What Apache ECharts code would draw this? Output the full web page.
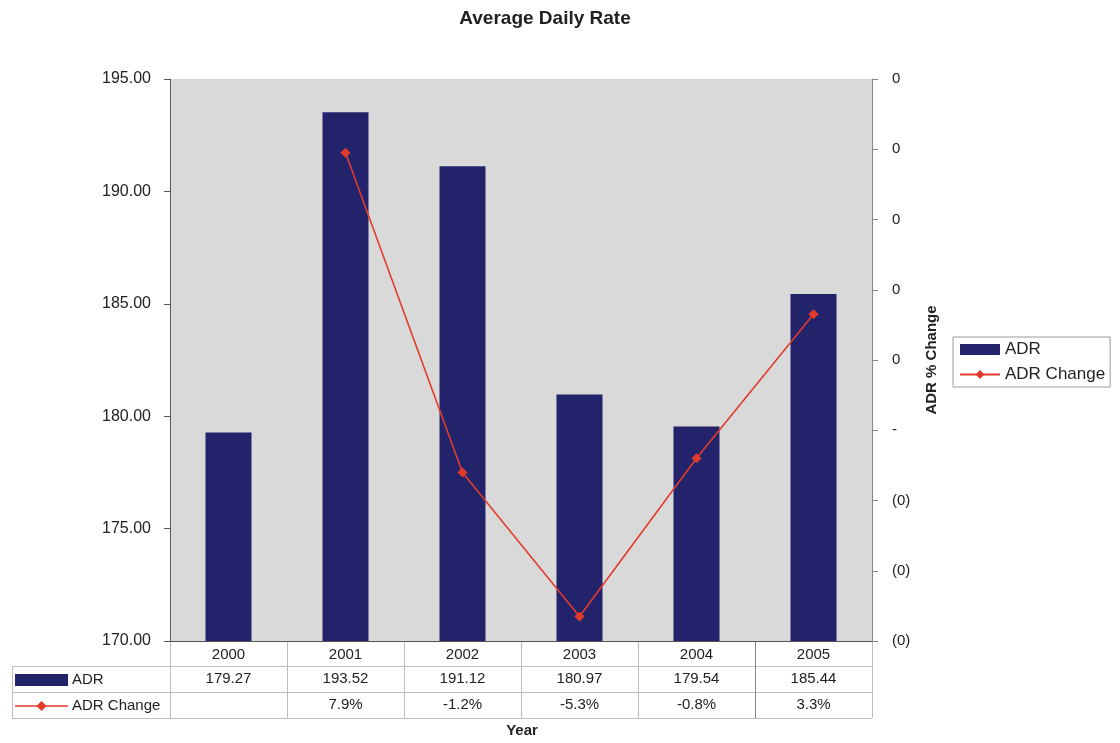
<!DOCTYPE html>
<html>
<head>
<meta charset="utf-8">
<script src="https://cdn.jsdelivr.net/npm/echarts@6/dist/echarts.min.js"></script>
<style>
html,body{margin:0;padding:0;background:#fff;}
#main{width:1120px;height:743px;}
</style>
</head>
<body>
<div id="main"></div>
<script>
const categories = ['2000', '2001', '2002', '2003', '2004', '2005'];
const adrValues = [179.27, 193.52, 191.12, 180.97, 179.54, 185.44];
const adrChange = [null, 0.079, -0.012, -0.053, -0.008, 0.033];
const adrChangeLabels = ['', '7.9%', '-1.2%', '-5.3%', '-0.8%', '3.3%'];
const leftAxis = { min: 170, max: 195, interval: 5 };
const rightAxis = { min: -0.06, max: 0.10, interval: 0.02 };

const FONT = '"Liberation Sans", Arial, sans-serif';
const NAVY = '#23236c';
const RED = '#e23b2c';
const GRID = { left: 170, right: 248, top: 79, bottom: 102 };

const chart = echarts.init(document.getElementById('main'), null, { renderer: 'canvas' });

const option = {
  backgroundColor: '#ffffff',
  animation: false,
  textStyle: { fontFamily: FONT },
  grid: {
    left: GRID.left, right: GRID.right, top: GRID.top, bottom: GRID.bottom,
    show: true, backgroundColor: '#d9d9d9', borderWidth: 0
  },
  legend: {
    orient: 'vertical',
    left: 953, top: 337,
    padding: [4, 5, 4, 6],
    itemGap: 8,
    itemWidth: 40, itemHeight: 11,
    borderColor: '#9a9a9a', borderWidth: 1,
    textStyle: { fontFamily: FONT, fontSize: 17, color: '#222' },
    data: [{ name: 'ADR', icon: 'rect' }, { name: 'ADR Change' }]
  },
  xAxis: {
    type: 'category',
    data: categories,
    axisLine: { show: true, onZero: false, lineStyle: { color: '#555', width: 1 } },
    axisTick: { show: false },
    axisLabel: { show: false },
    splitLine: { show: false }
  },
  yAxis: [
    {
      type: 'value',
      min: leftAxis.min, max: leftAxis.max, interval: leftAxis.interval,
      position: 'left',
      axisLine: { show: true, lineStyle: { color: '#555', width: 1 } },
      axisTick: { show: true, length: 6, lineStyle: { color: '#555' } },
      axisLabel: {
        formatter: v => v.toFixed(2),
        fontFamily: FONT, fontSize: 16, color: '#222', margin: 19
      },
      splitLine: { show: false }
    },
    {
      type: 'value',
      min: rightAxis.min, max: rightAxis.max, interval: rightAxis.interval,
      position: 'right',
      name: 'ADR % Change',
      nameLocation: 'middle',
      nameRotate: 90,
      nameGap: 52,
      nameTextStyle: { fontFamily: FONT, fontSize: 15, fontWeight: 'bold', color: '#222' },
      axisLine: { show: true, lineStyle: { color: '#888', width: 1 } },
      axisTick: { show: true, length: 6, lineStyle: { color: '#888' } },
      axisLabel: {
        formatter: v => (Math.abs(v) < 1e-9 ? '-' : (v > 0 ? '0' : '(0)')),
        fontFamily: FONT, fontSize: 15, color: '#222', margin: 20
      },
      splitLine: { show: false }
    }
  ],
  series: [
    {
      name: 'ADR',
      type: 'bar',
      data: adrValues,
      yAxisIndex: 0,
      barWidth: 46,
      itemStyle: { color: NAVY }
    },
    {
      name: 'ADR Change',
      type: 'line',
      data: adrChange,
      yAxisIndex: 1,
      symbol: 'diamond',
      symbolSize: 10,
      showSymbol: true,
      connectNulls: false,
      lineStyle: { color: RED, width: 1.6 },
      itemStyle: { color: RED }
    }
  ]
};

chart.setOption(option);

// Build the data table below the plot from the arrays, using axis positions
function buildTable() {
  const g = [];
  const x0 = GRID.left, x1 = 1120 - GRID.right;
  const yTop = 743 - GRID.bottom;
  const rowH = [25, 26, 26];
  const y1 = yTop + rowH[0], y2 = y1 + rowH[1], y3 = y2 + rowH[2];
  const band = (x1 - x0) / categories.length;
  const lineCol = '#bdbdbd';
  const leftX = 12;

  const hline = (xa, xb, y, c) => g.push({ type: 'line', shape: { x1: xa, y1: y, x2: xb, y2: y }, style: { stroke: c || lineCol, lineWidth: 1 }, silent: true });
  const vline = (x, ya, yb, c) => g.push({ type: 'line', shape: { x1: x, y1: ya, x2: x, y2: yb }, style: { stroke: c || lineCol, lineWidth: 1 }, silent: true });

  hline(leftX, x1, y1 + 0.5);
  hline(leftX, x1, y2 + 0.5);
  hline(leftX, x1, y3 + 0.5);
  vline(leftX + 0.5, y1, y3);
  for (let i = 0; i <= categories.length; i++) {
    const bx = Math.round(x0 + i * band) + 0.5;
    vline(bx, yTop, y3, i === 5 ? '#8a8a8a' : lineCol);
  }

  const txt = (x, y, s, align) => g.push({
    type: 'text', x: x, y: y, silent: true,
    style: { text: s, fill: '#222', font: '15px ' + FONT, textAlign: align || 'center', textVerticalAlign: 'middle' }
  });

  categories.forEach((c, i) => {
    const cx = chart.convertToPixel({ xAxisIndex: 0 }, c);
    txt(cx, yTop + rowH[0] / 2 + 1, c);
    txt(cx, y1 + rowH[1] / 2, adrValues[i].toFixed(2));
    txt(cx, y2 + rowH[2] / 2, adrChangeLabels[i]);
  });

  // legend keys inside the table
  g.push({ type: 'rect', shape: { x: 15, y: y1 + 8, width: 53, height: 12 }, style: { fill: NAVY }, silent: true });
  txt(72, y1 + rowH[1] / 2 + 1, 'ADR', 'left');
  const ly = y2 + rowH[2] / 2 + 1;
  g.push({ type: 'line', shape: { x1: 15, y1: ly, x2: 68, y2: ly }, style: { stroke: RED, lineWidth: 1.5 }, silent: true });
  g.push({ type: 'polygon', shape: { points: [[41.5, ly - 5], [46.5, ly], [41.5, ly + 5], [36.5, ly]] }, style: { fill: RED }, silent: true });
  txt(72, ly, 'ADR Change', 'left');

  // title and x-axis name
  g.push({ type: 'text', x: 545, y: 19, silent: true,
    style: { text: 'Average Daily Rate', fill: '#222', font: 'bold 19px ' + FONT, textAlign: 'center', textVerticalAlign: 'middle' } });
  g.push({ type: 'text', x: 522, y: 731, silent: true,
    style: { text: 'Year', fill: '#222', font: 'bold 15px ' + FONT, textAlign: 'center', textVerticalAlign: 'middle' } });

  chart.setOption({ graphic: { elements: g } });
}
buildTable();
</script>
</body>
</html>
